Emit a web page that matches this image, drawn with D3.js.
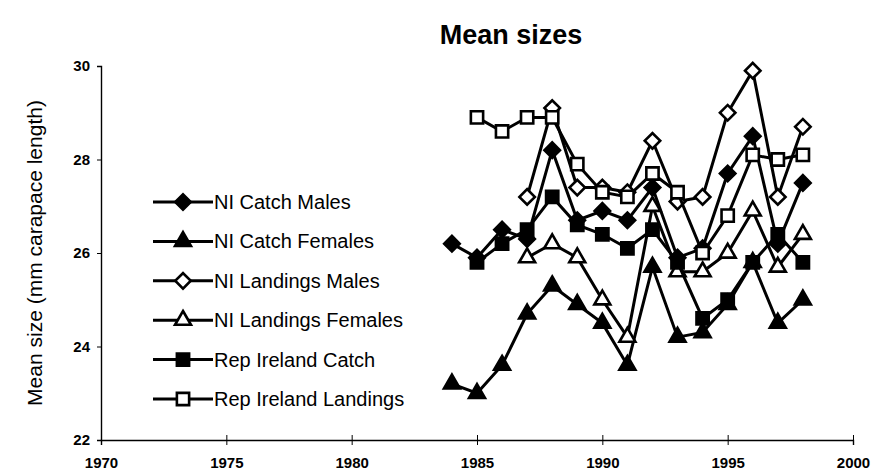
<!DOCTYPE html>
<html>
<head>
<meta charset="utf-8">
<script src="https://cdn.jsdelivr.net/npm/d3@7"></script>
<style>
body { margin: 0; background: #fff; }
svg { font-family: "Liberation Sans", Arial, sans-serif; }
</style>
</head>
<body>
<svg width="883" height="474"></svg>
<script>
var years = [1984,1985,1986,1987,1988,1989,1990,1991,1992,1993,1994,1995,1996,1997,1998];

var niCatchMales      = [26.2,25.9,26.5,26.3,28.2,26.7,26.9,26.7,27.4,25.9,26.1,27.7,28.5,26.2,27.5];
var niCatchFemales    = [23.2,23.0,23.6,24.7,25.3,24.9,24.5,23.6,25.7,24.2,24.3,24.9,25.8,24.5,25.0];
var niLandMales       = [null,null,null,27.2,29.1,27.4,27.4,27.3,28.4,27.1,27.2,29.0,29.9,27.2,28.7];
var niLandFemales     = [null,null,null,25.9,26.2,25.9,25.0,24.2,27.0,25.6,25.6,26.0,26.9,25.7,26.4];
var repCatch          = [null,25.8,26.2,26.5,27.2,26.6,26.4,26.1,26.5,25.8,24.6,25.0,25.8,26.4,25.8];
var repLandings       = [null,28.9,28.6,28.9,28.9,27.9,27.3,27.2,27.7,27.3,26.0,26.8,28.1,28.0,28.1];

var seriesNames = ["NI Catch Males","NI Catch Females","NI Landings Males","NI Landings Females","Rep Ireland Catch","Rep Ireland Landings"];
var xTicks = [1970,1975,1980,1985,1990,1995,2000];
var yTicks = [22,24,26,28,30];

var series = [
  {name: seriesNames[0], values: niCatchMales,   shape: "diamond",  fill: "#000"},
  {name: seriesNames[1], values: niCatchFemales, shape: "triangle", fill: "#000"},
  {name: seriesNames[2], values: niLandMales,    shape: "diamond",  fill: "#fff"},
  {name: seriesNames[3], values: niLandFemales,  shape: "triangle", fill: "#fff"},
  {name: seriesNames[4], values: repCatch,       shape: "square",   fill: "#000"},
  {name: seriesNames[5], values: repLandings,    shape: "square",   fill: "#fff"}
];

var svg = d3.select("svg");

var x = d3.scaleLinear().domain([1970, 2000]).range([101, 853]),
    y = d3.scaleLinear().domain([22, 30]).range([440, 66]);

// symbol generators
function marker(shape) {
  if (shape == "triangle") return d3.symbol(d3.symbolTriangle, 110)();
  if (shape == "square") return d3.symbol(d3.symbolSquare, 150)();
  return d3.symbol(d3.symbolSquare, 120)();
}
function markerRot(shape) { return shape == "diamond" ? " rotate(45)" : ""; }

// title
svg.append("text")
    .attr("x", 511).attr("y", 44)
    .attr("text-anchor", "middle")
    .attr("font-size", 27).attr("font-weight", "bold")
    .text("Mean sizes");

// y label
svg.append("text")
    .attr("transform", "translate(42,253) rotate(-90)")
    .attr("text-anchor", "middle")
    .attr("font-size", 21)
    .text("Mean size (mm carapace length)");

// axes
var yAxis = svg.append("g")
    .attr("transform", "translate(101,0)")
    .call(d3.axisLeft(y).tickValues(yTicks).tickSize(4).tickPadding(7));
var xAxis = svg.append("g")
    .attr("transform", "translate(0,440)")
    .call(d3.axisBottom(x).tickValues(xTicks).tickFormat(d3.format("d")).tickSize(5).tickPadding(12));
xAxis.selectAll(".tick line").attr("y1", -5);
[xAxis, yAxis].forEach(function(a){
  a.select(".domain").attr("stroke", "#000").attr("stroke-width", 1.4);
  a.selectAll(".tick line").attr("stroke", "#000");
  a.selectAll("text").attr("font-size", 15).attr("font-weight", "bold")
    .attr("font-family", "'Liberation Sans', Arial, sans-serif").attr("fill", "#000");
});

var line = d3.line()
    .defined(d => d[1] != null)
    .x(d => x(d[0]))
    .y(d => y(d[1]));

series.forEach(function(s){
  var pts = years.map((yr, i) => [yr, s.values[i]]);
  var g = svg.append("g");
  g.append("path")
      .attr("d", line(pts))
      .attr("fill", "none")
      .attr("stroke", "#000")
      .attr("stroke-width", 3);
  g.selectAll("path.m")
      .data(pts.filter(d => d[1] != null))
      .enter().append("path")
      .attr("class", "m")
      .attr("d", marker(s.shape))
      .attr("transform", d => `translate(${x(d[0])},${y(d[1])})` + markerRot(s.shape))
      .attr("fill", s.fill)
      .attr("stroke", "#000")
      .attr("stroke-width", 2.6);
});

// legend
var legend = svg.append("g");
series.forEach(function(s, i){
  var ly = 202 + i * 39.4;
  var lg = legend.append("g").attr("transform", `translate(0,${ly})`);
  lg.append("line").attr("x1", 153).attr("x2", 213).attr("stroke", "#000").attr("stroke-width", 3);
  lg.append("path")
      .attr("d", marker(s.shape))
      .attr("transform", "translate(183,0)" + markerRot(s.shape))
      .attr("fill", s.fill).attr("stroke", "#000").attr("stroke-width", 2.6);
  lg.append("text")
      .attr("x", 214).attr("y", 7)
      .attr("font-size", 20)
      .text(s.name);
});
</script>
</body>
</html>
